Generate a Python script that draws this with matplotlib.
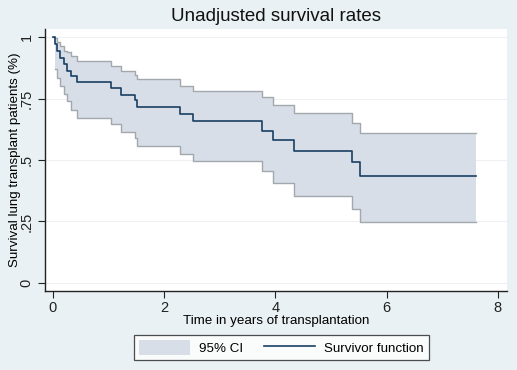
import numpy as np
import matplotlib
matplotlib.use("Agg")
import matplotlib.pyplot as plt
from matplotlib.patches import Patch
from matplotlib.lines import Line2D

plt.rcParams['font.family'] = ['Liberation Sans', 'DejaVu Sans']

# Kaplan-Meier estimate (years, survival)
km_time = [0, 0.03, 0.08, 0.13, 0.19, 0.25, 0.32, 0.44, 1.04, 1.23, 1.47, 1.52,
           2.28, 2.52, 3.76, 3.95, 4.33, 5.37, 5.53, 7.61]
km_surv = [1.0, 0.972, 0.944, 0.917, 0.889, 0.861, 0.840, 0.818, 0.793, 0.765, 0.745, 0.715,
           0.687, 0.660, 0.620, 0.583, 0.538, 0.490, 0.433, 0.433]

# 95% confidence band
ci_time = [0.03, 0.08, 0.13, 0.19, 0.25, 0.32, 0.44, 1.04, 1.23, 1.47, 1.52,
           2.28, 2.52, 3.76, 3.95, 4.33, 5.37, 5.53, 7.61]
ci_upper = [0.996, 0.982, 0.962, 0.945, 0.938, 0.925, 0.901, 0.883, 0.863, 0.845, 0.830,
            0.802, 0.782, 0.756, 0.725, 0.691, 0.650, 0.612, 0.612]
ci_lower = [0.870, 0.835, 0.800, 0.770, 0.740, 0.705, 0.673, 0.646, 0.614, 0.589, 0.558,
            0.524, 0.494, 0.454, 0.407, 0.355, 0.301, 0.246, 0.246]

yticks = [0, 0.25, 0.5, 0.75, 1]
ytick_labels = ["0", ".25", ".5", ".75", "1"]
xticks = [0, 2, 4, 6, 8]

bg = "#E9F1F4"
band = "#D8DEE8"
band_edge = "#A3A8AD"
navy = "#1A3F63"

fig = plt.figure(figsize=(5.17, 3.70), dpi=100, facecolor=bg)
ax = fig.add_axes([0.087, 0.2135, 0.894, 0.708])
ax.set_facecolor("white")

ax.fill_between(ci_time, ci_lower, ci_upper, step="post", color=band, linewidth=0, zorder=1)
ax.step(ci_time, ci_upper, where="post", color=band_edge, lw=1.0, zorder=2)
ax.step(ci_time, ci_lower, where="post", color=band_edge, lw=1.0, zorder=2)
ax.step([0] + ci_time[:1], [1.0, ci_upper[0]], where="post", color=band_edge, lw=1.0, zorder=2)
ax.step(km_time, km_surv, where="post", color=navy, lw=1.2, zorder=3)

ax.set_xlim(-0.144, 8.17)
ax.set_ylim(-0.033, 1.033)
ax.set_xticks(xticks)
ax.set_yticks(yticks)
ax.set_yticklabels(ytick_labels, rotation=90, va="center")
ax.tick_params(axis="both", direction="out", length=5, width=0.8, labelsize=10.5, colors="#222222")
ax.tick_params(axis="x", pad=2)
ax.tick_params(axis="y", pad=3)
for y in yticks:
    ax.axhline(y, color="#EDF1F3", lw=0.8, zorder=0)

for s in ["top", "right"]:
    ax.spines[s].set_visible(False)
for s in ["left", "bottom"]:
    ax.spines[s].set_color("#222222")
    ax.spines[s].set_linewidth(1.0)

ax.set_title("Unadjusted survival rates", fontsize=13.5, color="#111111", pad=6)
ax.set_xlabel("Time in years of transplantation", fontsize=9.6, labelpad=0)
ax.set_ylabel("Survival lung transplant patients (%)", fontsize=9.6)
ax.yaxis.set_label_coords(-0.052, 0.5)

handles = [Patch(facecolor=band, edgecolor="none", label="95% CI"),
           Line2D([0], [0], color=navy, lw=1.2, label="Survivor function")]
leg = fig.legend(handles=handles, loc="center", bbox_to_anchor=(0.5445, 0.0605), ncol=2,
                 frameon=True, fancybox=False, edgecolor="#222222", fontsize=9.6,
                 handlelength=3.8, handleheight=1.3, handletextpad=0.7,
                 columnspacing=1.6, borderpad=0.4)
leg.get_frame().set_linewidth(0.9)

fig.savefig("out.png", dpi=100, facecolor=bg)
